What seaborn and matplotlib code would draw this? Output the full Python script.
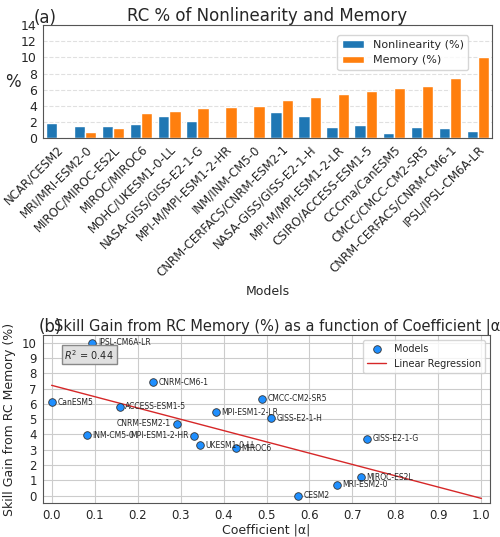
import matplotlib
matplotlib.use("Agg")
import matplotlib.pyplot as plt
import seaborn as sns
import numpy as np
import pandas as pd

models = ["NCAR/CESM2","MRI/MRI-ESM2-0","MIROC/MIROC-ES2L","MIROC/MIROC6","MOHC/UKESM1-0-LL",
          "NASA-GISS/GISS-E2-1-G","MPI-M/MPI-ESM1-2-HR","INM/INM-CM5-0","CNRM-CERFACS/CNRM-ESM2-1",
          "NASA-GISS/GISS-E2-1-H","MPI-M/MPI-ESM1-2-LR","CSIRO/ACCESS-ESM1-5","CCCma/CanESM5",
          "CMCC/CMCC-CM2-SR5","CNRM-CERFACS/CNRM-CM6-1","IPSL/IPSL-CM6A-LR"]
nonlin = [1.9,1.55,1.5,1.75,2.75,2.15,0,0,3.25,2.7,1.4,1.65,0.65,1.4,1.25,0.9]
memory = [0,0.7,1.2,3.1,3.3,3.7,3.9,3.95,4.7,5.05,5.5,5.85,6.15,6.4,7.4,10.0]

sc_labels = ["CESM2","MRI-ESM2-0","MIROC-ES2L","MIROC6","UKESM1-0-LL","GISS-E2-1-G","MPI-ESM1-2-HR",
             "INM-CM5-0","CNRM-ESM2-1","GISS-E2-1-H","MPI-ESM1-2-LR","ACCESS-ESM1-5","CanESM5",
             "CMCC-CM2-SR5","CNRM-CM6-1","IPSL-CM6A-LR"]
alpha = [0.573,0.664,0.72,0.428,0.346,0.733,0.332,0.082,0.291,0.51,0.382,0.158,0.0,0.49,0.236,0.095]
gain = [0,0.7,1.2,3.1,3.3,3.7,3.9,3.95,4.7,5.05,5.45,5.8,6.1,6.35,7.4,10.0]
left_labels = {"CNRM-ESM2-1","MPI-ESM1-2-HR"}

sns.set_style("whitegrid")
plt.rcParams['font.family'] = ['DejaVu Sans']
fig = plt.figure(figsize=(5.0,5.37), dpi=100)
ax1 = fig.add_axes([0.086, 0.743, 0.898, 0.21])
ax2 = fig.add_axes([0.086, 0.063, 0.894, 0.313])

df = pd.DataFrame({"Model": models*2,
                   "val": nonlin+memory,
                   "kind": ["Nonlinearity (%)"]*16 + ["Memory (%)"]*16})
sns.barplot(data=df, x="Model", y="val", hue="kind", palette=["#1f77b4","#ff7f0e"],
            ax=ax1, saturation=1, width=0.8)
ax1.set_ylim(0,14); ax1.set_yticks(range(0,15,2))
ax1.set_xlabel("Models", fontsize=9)
ax1.set_ylabel("%", fontsize=12, rotation=0, labelpad=6, va='center')
ax1.set_title("RC % of Nonlinearity and Memory", fontsize=12, pad=3)
ax1.text(-0.02, 1.02, "(a)", transform=ax1.transAxes, fontsize=12)
ax1.tick_params(axis='x', labelrotation=45, labelsize=8.5, pad=0)
for t in ax1.get_xticklabels(): t.set_ha('right'); t.set_rotation_mode('anchor')
ax1.tick_params(axis='y', labelsize=9, pad=1)
ax1.grid(axis='x', visible=False); ax1.grid(axis='y', linestyle='--', alpha=0.6)
for s in ax1.spines.values(): s.set_edgecolor('#555')
ax1.legend(title=None, fontsize=8, loc='upper right', bbox_to_anchor=(0.96,0.96))

sdf = pd.DataFrame({"a": alpha, "g": gain})
sns.scatterplot(data=sdf, x="a", y="g", ax=ax2, s=30, color="#1f8fff", edgecolor="#333",
                linewidth=0.6, label="Models", zorder=3)
k, b = np.polyfit(alpha, gain, 1)
xs = np.array([0.0, 1.0])
ax2.plot(xs, k*xs+b, color="#d62728", lw=1, label="Linear Regression")
r2 = np.corrcoef(alpha, gain)[0,1]**2
for l, x, y in zip(sc_labels, alpha, gain):
    if l in left_labels:
        ax2.annotate(l, (x, y), xytext=(-4, 0), textcoords="offset points", fontsize=5.5, va='center', ha='right')
    else:
        ax2.annotate(l, (x, y), xytext=(4, 0), textcoords="offset points", fontsize=5.5, va='center')
ax2.text(0.03, 8.9, f"$R^2$ = {r2:.2f}", fontsize=7,
         bbox=dict(facecolor='#e0e0e0', edgecolor='#888', boxstyle='square,pad=0.3'))
ax2.set_xlim(-0.02, 1.02); ax2.set_ylim(-0.5, 10.5)
ax2.set_xticks(np.arange(0,1.01,0.1)); ax2.set_yticks(range(0,11))
ax2.tick_params(labelsize=8.5, pad=1)
ax2.set_xlabel("Coefficient |α|", fontsize=9, labelpad=1)
ax2.set_ylabel("Skill Gain from RC Memory (%)", fontsize=9)
ax2.set_title("Skill Gain from RC Memory (%) as a function of Coefficient |α|", fontsize=10.5, pad=3, x=0.53)
ax2.text(-0.01, 1.02, "(b)", transform=ax2.transAxes, fontsize=12)
for s in ax2.spines.values(): s.set_edgecolor('#555')
ax2.legend(fontsize=7, loc='upper right')
fig.savefig("out.png", dpi=100)
